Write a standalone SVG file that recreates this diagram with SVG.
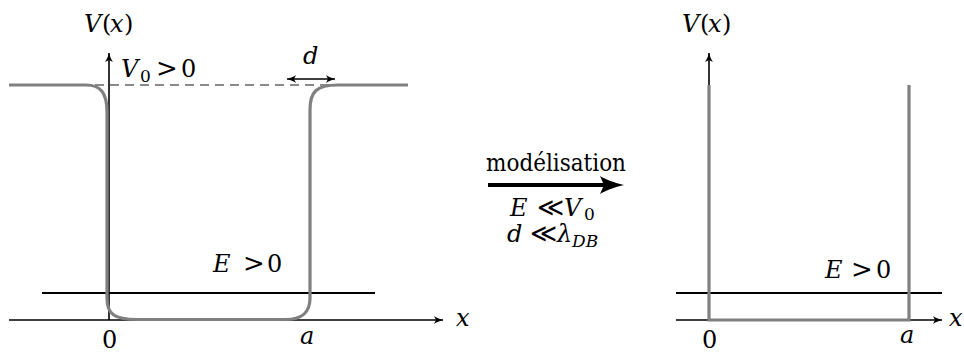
<svg xmlns="http://www.w3.org/2000/svg" width="964" height="353" viewBox="0 0 964 353">
<style>
  text { font-family: "DejaVu Serif", serif; font-size: 24px; fill: #000; }
  .i { font-style: italic; }
  .sub { font-size: 17px; }
  .op { font-size: 26px; }
  .ll { font-size: 26px; }
  .axis { stroke: #000; stroke-width: 1.6; fill: none; }
  .eline { stroke: #000; stroke-width: 2; fill: none; }
  .pot { stroke: #808080; stroke-width: 3.2; fill: none; stroke-linecap: butt; }
  .dash { stroke: #8a8a8a; stroke-width: 2; fill: none; stroke-dasharray: 9 6; }
</style>
<defs>
  <marker id="ah" markerUnits="userSpaceOnUse" markerWidth="12" markerHeight="10" refX="10" refY="5" orient="auto-start-reverse" viewBox="0 0 12 10">
    <path d="M10,5 C7,4.2 3,2.5 1,1 L3,5 L1,9 C3,7.5 7,5.8 10,5 Z" fill="#000"/>
  </marker>
</defs>

<g id="connectors">
  <line class="axis" x1="9" y1="320" x2="443" y2="320" marker-end="url(#ah)"/>
  <line class="axis" x1="109" y1="320" x2="109" y2="53" marker-end="url(#ah)"/>
  <line class="axis" x1="287" y1="79" x2="335" y2="79" marker-start="url(#ah)" marker-end="url(#ah)"/>
  <line x1="488" y1="185" x2="606" y2="185" stroke="#000" stroke-width="4"/>
  <path d="M624,185 C613,182.5 605,179 600,176 L604,185 L600,194 C605,191 613,187.5 624,185 Z" fill="#000"/>
  <line class="axis" x1="676" y1="320" x2="942" y2="320" marker-end="url(#ah)"/>
  <line class="axis" x1="709" y1="320" x2="709" y2="53" marker-end="url(#ah)"/>
</g>

<g id="left-plot">
  <line class="dash" x1="95" y1="85" x2="330" y2="85"/>
  <line class="eline" x1="42" y1="293" x2="375" y2="293"/>
  <path class="pot" d="M9,85 L86,85 C100,85 107,92 107,112 L107,298 C107,314 114,319.5 137,319.5 L285,319.5 C302,319.5 310,313 310,298 L310,110 C310,92 316,85 338,85 L408,85"/>
  <text class="i" x="84" y="32">V</text>
  <text x="102" y="32">(</text>
  <text class="i" x="110" y="32">x</text>
  <text x="124" y="32">)</text>
  <text class="i" x="121" y="77">V</text>
  <text class="sub" x="140" y="82">0</text>
  <text class="op" x="156" y="77">&gt;</text>
  <text x="181" y="77">0</text>
  <text class="i" x="303" y="64">d</text>
  <text class="i" x="213" y="272">E</text>
  <text class="op" x="243" y="272">&gt;</text>
  <text x="267" y="272">0</text>
  <text x="102" y="348">0</text>
  <text class="i" x="300" y="344">a</text>
  <text class="i" x="456" y="326">x</text>
</g>

<g id="modelisation">
  <text x="486" y="171" textLength="140" lengthAdjust="spacingAndGlyphs">modélisation</text>
  <text class="i" x="510" y="216">E</text>
  <text class="ll" x="537" y="216">≪</text>
  <text class="i" x="564" y="216">V</text>
  <text class="sub" x="584" y="220">0</text>
  <text class="i" x="507" y="242">d</text>
  <text class="ll" x="530" y="242">≪</text>
  <text class="i" x="557" y="242">λ</text>
  <text class="sub i" x="572" y="247">DB</text>
</g>

<g id="right-plot">
  <line class="eline" x1="676" y1="293" x2="942" y2="293"/>
  <path class="pot" d="M709,85 L709,320 L909,320 L909,85"/>
  <text class="i" x="682" y="32">V</text>
  <text x="700" y="32">(</text>
  <text class="i" x="708" y="32">x</text>
  <text x="722" y="32">)</text>
  <text class="i" x="825" y="278">E</text>
  <text class="op" x="851" y="278">&gt;</text>
  <text x="876" y="278">0</text>
  <text x="702" y="348">0</text>
  <text class="i" x="900" y="343">a</text>
  <text class="i" x="949" y="326">x</text>
</g>
</svg>
